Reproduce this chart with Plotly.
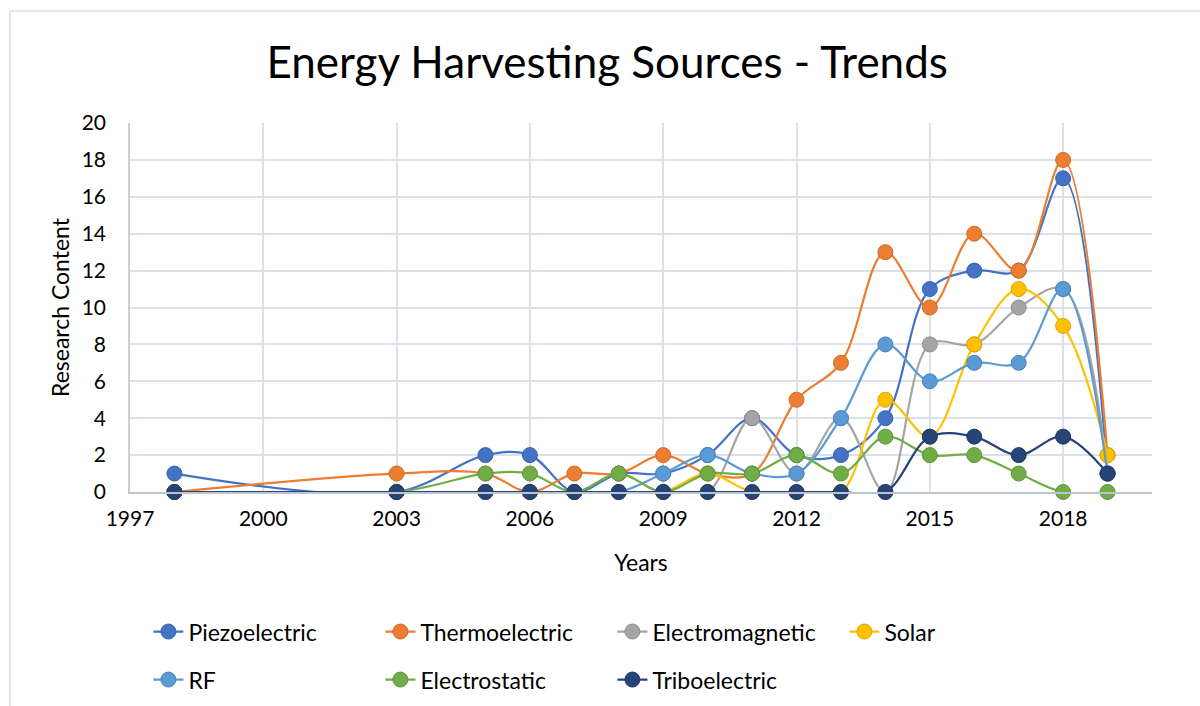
import plotly.graph_objects as go

# Publication counts per year for each harvesting source
years = [1998, 2003, 2005, 2006, 2007, 2008, 2009, 2010, 2011, 2012,
         2013, 2014, 2015, 2016, 2017, 2018, 2019]
piezoelectric = [1, 0, 2, 2, 0, 1, 1, 2, 4, 2, 2, 4, 11, 12, 12, 17, 1]
thermoelectric = [0, 1, 1, 0, 1, 1, 2, 1, 1, 5, 7, 13, 10, 14, 12, 18, 2]
electromagnetic = [0, 0, 0, 0, 0, 0, 0, 0, 4, 1, 4, 0, 8, 8, 10, 11, 1]
solar = [0, 0, 0, 0, 0, 0, 0, 1, 0, 0, 0, 5, 3, 8, 11, 9, 2]
rf = [0, 0, 0, 0, 0, 0, 1, 2, 1, 1, 4, 8, 6, 7, 7, 11, 1]
electrostatic = [0, 0, 1, 1, 0, 1, 0, 1, 1, 2, 1, 3, 2, 2, 1, 0, 0]
triboelectric = [0, 0, 0, 0, 0, 0, 0, 0, 0, 0, 0, 0, 3, 3, 2, 3, 1]

series_names = ["Piezoelectric", "Thermoelectric", "Electromagnetic", "Solar",
                "RF", "Electrostatic", "Triboelectric"]
series_values = [piezoelectric, thermoelectric, electromagnetic, solar,
                 rf, electrostatic, triboelectric]
colors = ["#4472C4", "#ED7D31", "#A5A5A5", "#FFC000",
          "#5B9BD5", "#70AD47", "#264478"]
edge_colors = ["#3A62A8", "#C96A29", "#8C8C8C", "#D9A300",
               "#4D84B5", "#5F933C", "#1F3962"]

FONT = "Lato, 'Open Sans', sans-serif"
GRID = "#DCE0E8"

fig = go.Figure()
for i, (name, vals) in enumerate(zip(series_names, series_values)):
    fig.add_trace(go.Scatter(
        x=years, y=vals, name=name, mode="lines+markers",
        line=dict(color=colors[i], width=2.2, shape="spline", smoothing=1),
        marker=dict(size=15, color=colors[i],
                    line=dict(color=edge_colors[i], width=1)),
        cliponaxis=False,
        legend="legend" if i < 4 else "legend2",
    ))

legend_style = dict(orientation="h", x=0.018, xanchor="left",
                    yref="container", yanchor="middle",
                    entrywidth=187, entrywidthmode="pixels",
                    font=dict(family=FONT, size=23, color="#000000"),
                    bgcolor="rgba(0,0,0,0)")

fig.update_layout(
    width=1200, height=706,
    margin=dict(l=130, r=48, t=123, b=214),
    paper_bgcolor="white", plot_bgcolor="white",
    font=dict(family=FONT, color="#000000"),
    title=dict(text="Energy Harvesting Sources - Trends",
               font=dict(family=FONT, size=44, color="#000000"),
               x=0.506, xanchor="center", y=0.911, yanchor="middle"),
    xaxis=dict(range=[1997, 2020], tick0=1997, dtick=3, automargin=False,
               showgrid=True, gridcolor=GRID, gridwidth=1.5,
               showline=True, linecolor="#BCC4D2", linewidth=1.5,
               zeroline=False, ticks="", ticklabelstandoff=7,
               tickfont=dict(family=FONT, size=21, color="#000000"),
               title=dict(text="Years", standoff=26,
                          font=dict(family=FONT, size=23, color="#000000"))),
    yaxis=dict(range=[0, 20], dtick=2, automargin=False,
               showgrid=True, gridcolor=GRID, gridwidth=1.5,
               showline=True, linecolor="#C8CFDB", linewidth=1.5,
               zeroline=False, ticks="", ticklabelstandoff=18,
               tickfont=dict(family=FONT, size=21, color="#000000"),
               title=dict(text="Research Content", standoff=6,
                          font=dict(family=FONT, size=23, color="#000000"))),
    legend=dict(legend_style, y=0.1054),
    legend2=dict(legend_style, y=0.0374),
    shapes=[dict(type="rect", xref="paper", yref="paper",
                 x0=(10 - 130) / 1022, x1=(1215 - 130) / 1022,
                 y0=(492 - 720) / 369, y1=(492 - 11) / 369,
                 line=dict(color="#D9DEE6", width=1.5),
                 fillcolor="rgba(0,0,0,0)", layer="below")],
)

fig.write_html("out.html")
